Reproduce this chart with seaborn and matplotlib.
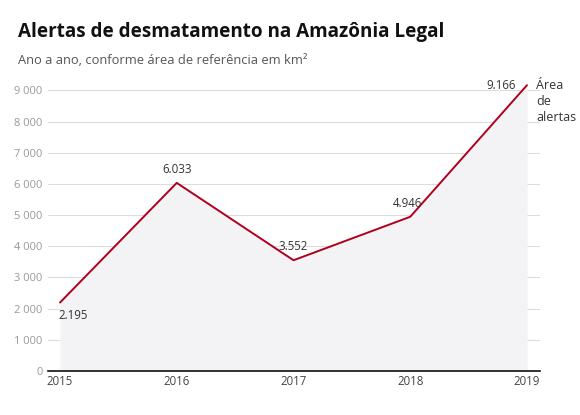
import pandas as pd
import matplotlib.pyplot as plt
import seaborn as sns

# Data
years = [2015, 2016, 2017, 2018, 2019]
alerts = [2195, 6033, 3552, 4946, 9166]
value_labels = ["2.195", "6.033", "3.552", "4.946", "9.166"]
y_ticks = [0, 1000, 2000, 3000, 4000, 5000, 6000, 7000, 8000, 9000]
y_tick_labels = ["0", "1 000", "2 000", "3 000", "4 000", "5 000", "6 000", "7 000", "8 000", "9 000"]

df = pd.DataFrame({"ano": years, "area": alerts})

sns.set_theme(style="white")
plt.rcParams["font.family"] = ["Open Sans", "DejaVu Sans"]

fig = plt.figure(figsize=(5.8, 4.15), dpi=100)
ax = fig.add_axes([48 / 580, 44 / 415, 492 / 580, 290 / 415])

line_color = "#b0001c"
ax.fill_between(df["ano"], df["area"], 0, color="#f3f2f5", zorder=1, linewidth=0)
sns.lineplot(data=df, x="ano", y="area", color=line_color, linewidth=1.4, ax=ax, zorder=3)

ax.set_xlim(2015 - 12 / 116.75, 2019 + 13 / 116.75)
ax.set_ylim(0, 9300)
ax.set_xticks(years)
ax.set_xticklabels([str(y) for y in years])
ax.set_yticks(y_ticks)
ax.set_yticklabels(y_tick_labels)
ax.set_xlabel("")
ax.set_ylabel("")

for s in ["top", "right", "left"]:
    ax.spines[s].set_visible(False)
ax.spines["bottom"].set_color("#111111")
ax.spines["bottom"].set_linewidth(1.2)
ax.spines["bottom"].set_zorder(4)

ax.grid(axis="y", color="#dddddd", linewidth=0.8, zorder=0)
ax.set_axisbelow(True)
ax.tick_params(axis="y", length=0, pad=4, labelsize=8, labelcolor="#999999")
ax.tick_params(axis="x", length=0, pad=3, labelsize=8.3, labelcolor="#444444")

# Value labels
offsets = {
    2015: (-1, -5, "left", "top"),
    2016: (0, 5, "center", "bottom"),
    2017: (0, 5, "center", "bottom"),
    2018: (-2, 5, "center", "bottom"),
    2019: (-8, 0, "right", "center"),
}
for yr, val, lab in zip(years, alerts, value_labels):
    dx, dy, ha, va = offsets[yr]
    ax.annotate(lab, (yr, val), xytext=(dx, dy), textcoords="offset points",
                ha=ha, va=va, fontsize=8.3, color="#333333", zorder=5)

fig.text(536 / 580, 1 - 79 / 415, "Área\nde\nalertas", ha="left", va="top",
         fontsize=9, color="#333333", linespacing=1.3)

fig.text(18 / 580, 1 - 32 / 415, "Alertas de desmatamento na Amazônia Legal",
         fontsize=13.6, fontweight="bold", color="#111111", va="center", ha="left")
fig.text(18 / 580, 1 - 61 / 415, "Ano a ano, conforme área de referência em km²",
         fontsize=9.3, color="#555555", va="center", ha="left")

fig.savefig("out.png", dpi=100)
